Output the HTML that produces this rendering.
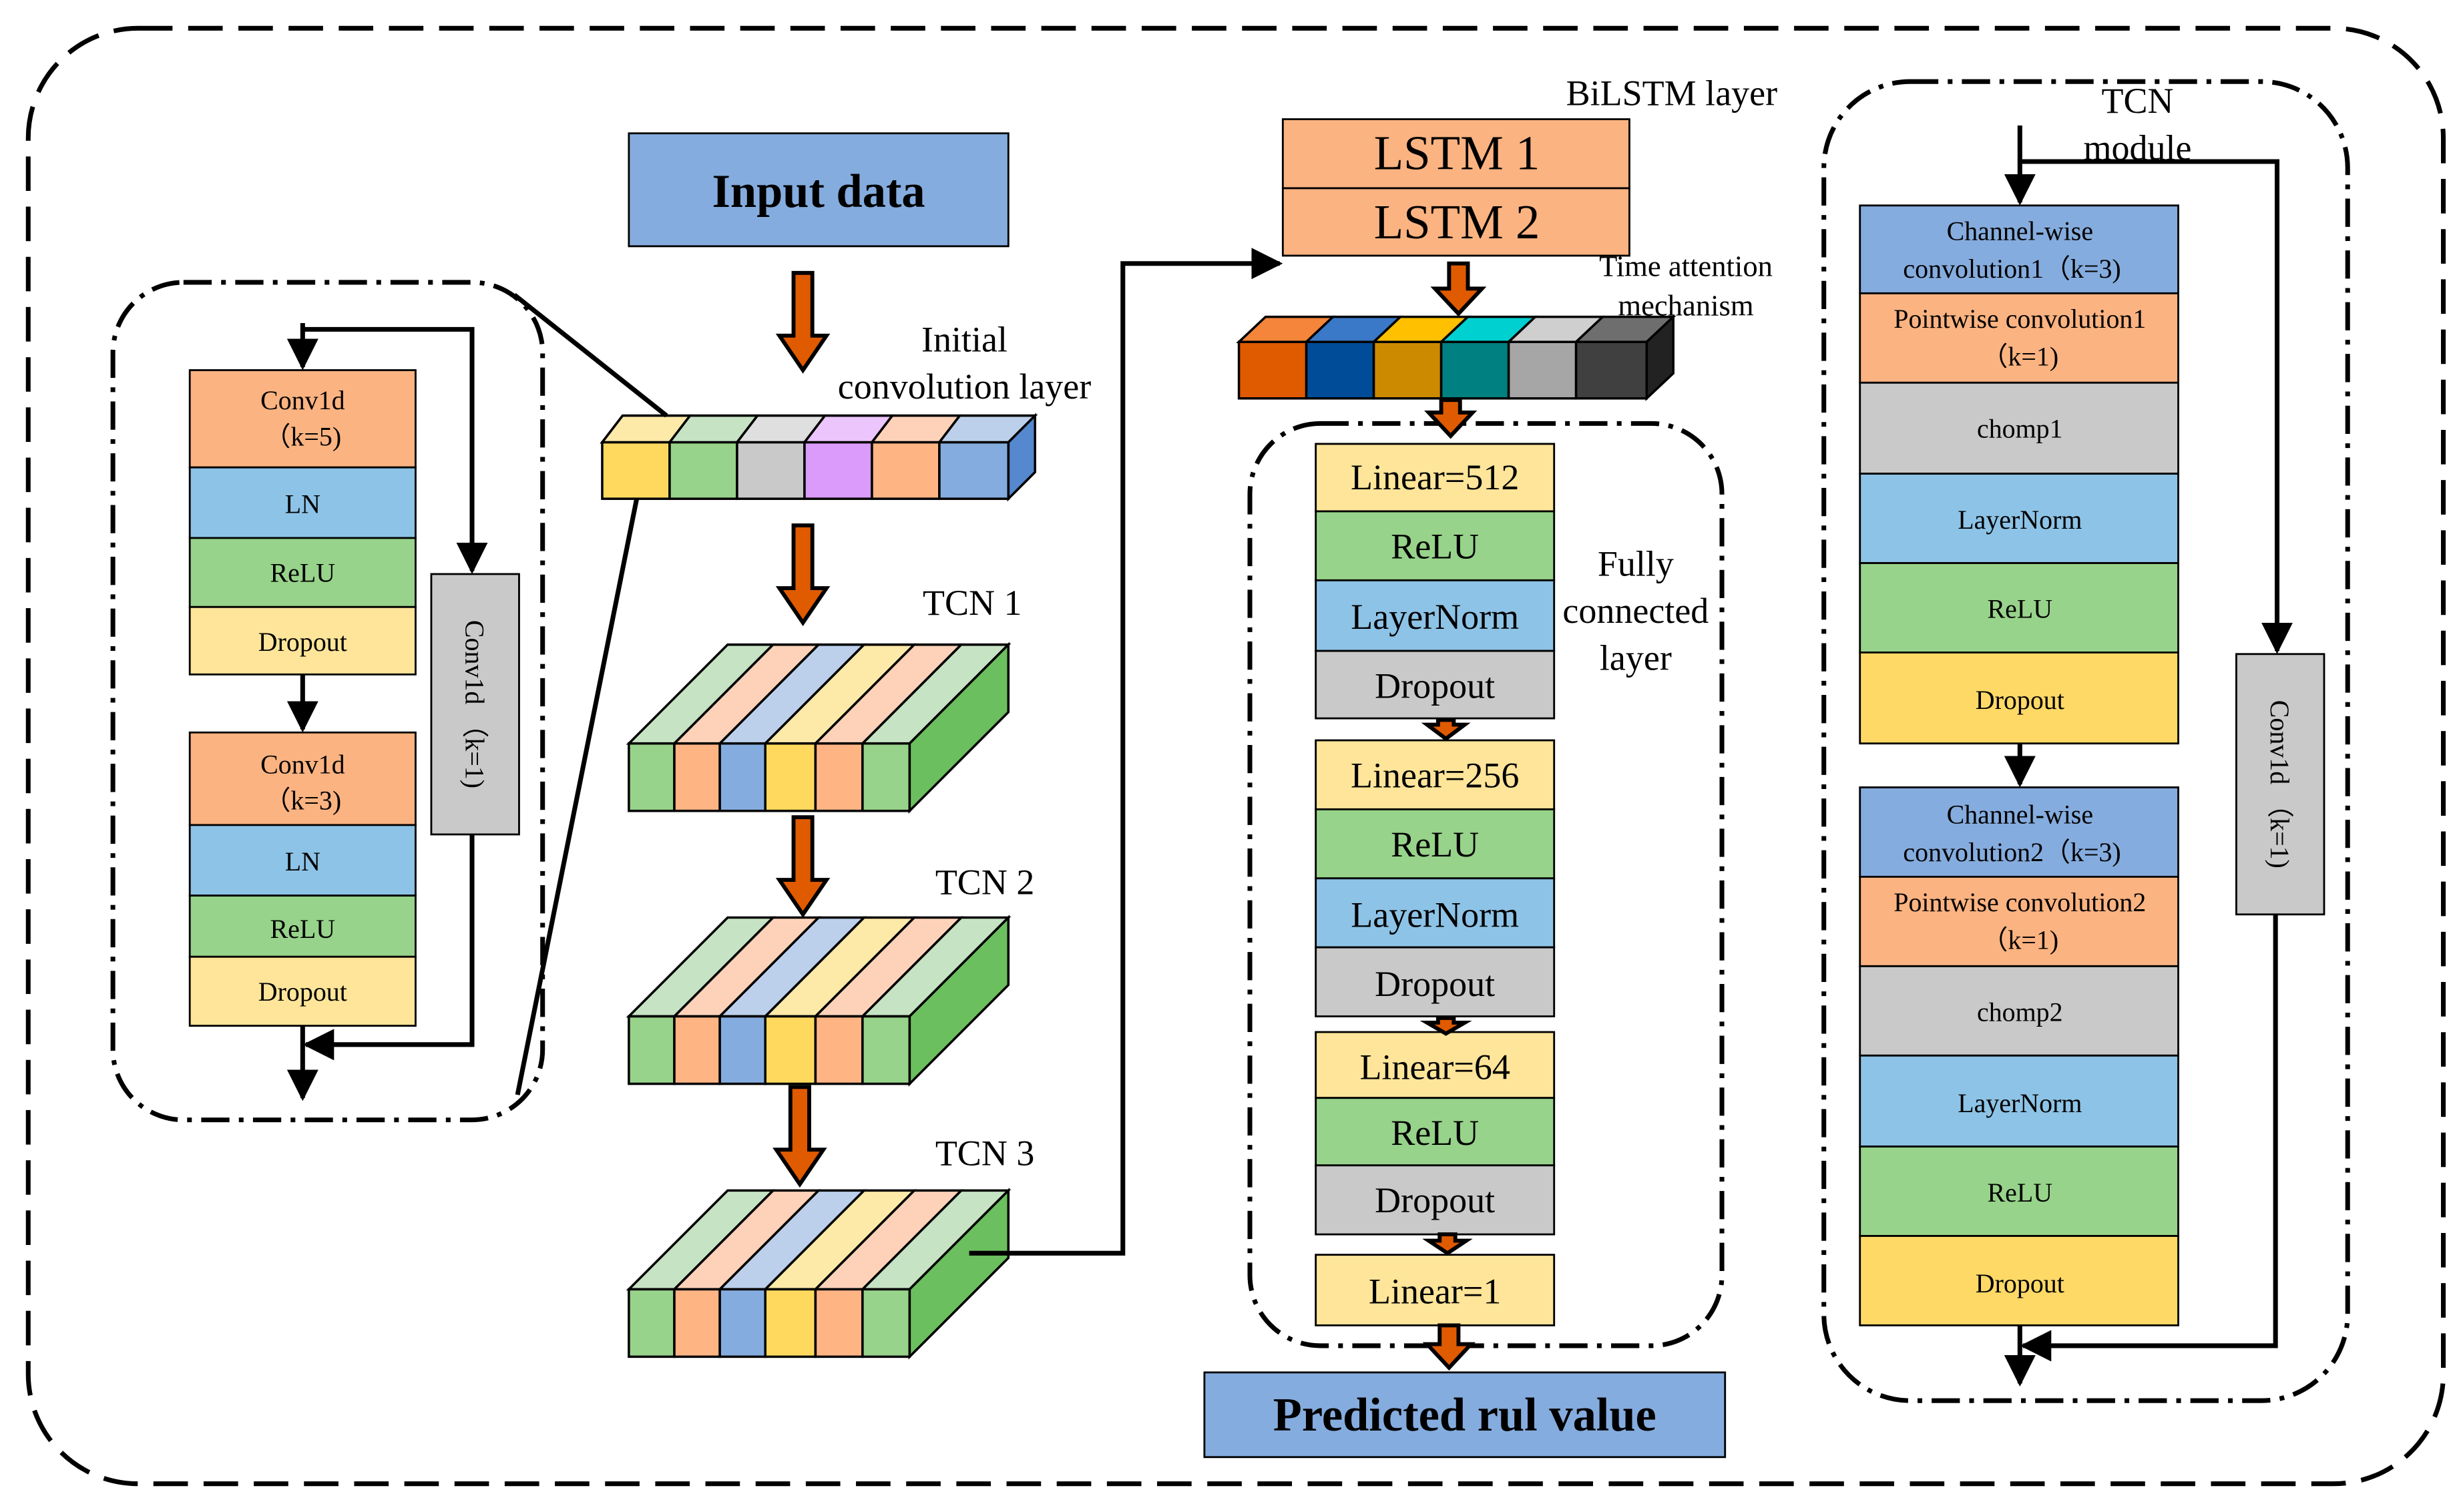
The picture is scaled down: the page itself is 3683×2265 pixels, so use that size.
<!DOCTYPE html>
<html><head><meta charset="utf-8"><style>
html,body{margin:0;padding:0;background:#fff}
svg{display:block}
text{font-family:"Liberation Serif",serif;fill:#000}
</style></head><body>
<svg width="3683" height="2265" viewBox="0 0 1568 964" preserveAspectRatio="none" xmlns="http://www.w3.org/2000/svg">
<defs>
<marker id="ah" markerWidth="10" markerHeight="10" refX="9" refY="5" orient="auto" markerUnits="userSpaceOnUse"><path d="M0,0 L10,5 L0,10 Z" fill="#000"/></marker>
<marker id="ahb" markerWidth="20" markerHeight="20" refX="18" refY="10" orient="auto" markerUnits="userSpaceOnUse"><path d="M0,0 L20,10 L0,20 Z" fill="#000"/></marker>
</defs>
<g fill="none" stroke="#000" stroke-width="3">
<rect x="18" y="18" width="1540" height="928" rx="70" stroke-dasharray="22,10"/>
<rect x="72" y="180" width="274" height="534" rx="45" stroke-dasharray="18,6,3,6"/>
<rect x="797" y="270" width="301" height="588" rx="45" stroke-dasharray="18,6,3,6"/>
<rect x="1163" y="52" width="334" height="841" rx="55" stroke-dasharray="18,6,3,6"/>
</g>
<g stroke="#000" stroke-width="1.2">
<!-- left module -->
<rect x="121" y="236" width="144" height="62" fill="#FBB381"/>
<rect x="121" y="298" width="144" height="45" fill="#8DC3E6"/>
<rect x="121" y="343" width="144" height="44" fill="#97D38A"/>
<rect x="121" y="387" width="144" height="43" fill="#FEE599"/>
<rect x="121" y="467" width="144" height="59" fill="#FBB381"/>
<rect x="121" y="526" width="144" height="45" fill="#8DC3E6"/>
<rect x="121" y="571" width="144" height="39" fill="#97D38A"/>
<rect x="121" y="610" width="144" height="44" fill="#FEE599"/>
<rect x="275" y="366" width="56" height="166" fill="#C9C9C9"/>
<!-- input -->
<rect x="401" y="85" width="242" height="72" fill="#85ACDE"/>
<!-- LSTM -->
<rect x="818" y="76" width="221" height="44" fill="#FBB381"/>
<rect x="818" y="120" width="221" height="43" fill="#FBB381"/>
<!-- FC -->
<rect x="839" y="283" width="152" height="43" fill="#FEE599"/>
<rect x="839" y="326" width="152" height="44" fill="#97D38A"/>
<rect x="839" y="370" width="152" height="45" fill="#8DC3E6"/>
<rect x="839" y="415" width="152" height="43" fill="#C9C9C9"/>
<rect x="839" y="472" width="152" height="44" fill="#FEE599"/>
<rect x="839" y="516" width="152" height="44" fill="#97D38A"/>
<rect x="839" y="560" width="152" height="44" fill="#8DC3E6"/>
<rect x="839" y="604" width="152" height="44" fill="#C9C9C9"/>
<rect x="839" y="658" width="152" height="42" fill="#FEE599"/>
<rect x="839" y="700" width="152" height="43" fill="#97D38A"/>
<rect x="839" y="743" width="152" height="44" fill="#C9C9C9"/>
<rect x="839" y="800" width="152" height="45" fill="#FEE599"/>
<rect x="768" y="875" width="332" height="54" fill="#85ACDE"/>
<!-- TCN module -->
<rect x="1186" y="131" width="203" height="56" fill="#85ACDE"/>
<rect x="1186" y="187" width="203" height="57" fill="#FBB381"/>
<rect x="1186" y="244" width="203" height="58" fill="#C9C9C9"/>
<rect x="1186" y="302" width="203" height="57" fill="#8DC3E6"/>
<rect x="1186" y="359" width="203" height="57" fill="#97D38A"/>
<rect x="1186" y="416" width="203" height="58" fill="#FFD966"/>
<rect x="1186" y="502" width="203" height="57" fill="#85ACDE"/>
<rect x="1186" y="559" width="203" height="57" fill="#FBB381"/>
<rect x="1186" y="616" width="203" height="57" fill="#C9C9C9"/>
<rect x="1186" y="673" width="203" height="58" fill="#8DC3E6"/>
<rect x="1186" y="731" width="203" height="57" fill="#97D38A"/>
<rect x="1186" y="788" width="203" height="57" fill="#FFD966"/>
<rect x="1426" y="417" width="56" height="166" fill="#C9C9C9"/>
</g>
<!-- initial conv bar -->
<g stroke="#000" stroke-width="1.5">
<polygon points="384,282 397,265 660,265 647,282" fill="#ccc"/>
<polygon points="384,282 397,265 440,265 427,282" fill="#FDE9A8"/>
<polygon points="427,282 440,265 483,265 470,282" fill="#C6E3C3"/>
<polygon points="470,282 483,265 526,265 513,282" fill="#DFDFDF"/>
<polygon points="513,282 526,265 569,265 556,282" fill="#EBC5FB"/>
<polygon points="556,282 569,265 612,265 599,282" fill="#FDD2B9"/>
<polygon points="599,282 612,265 660,265 643,282" fill="#BCD0EB"/>
<polygon points="643,282 660,265 660,301 643,318" fill="#5588CF"/>
<rect x="384" y="282" width="43" height="36" fill="#FFD95E"/>
<rect x="427" y="282" width="43" height="36" fill="#97D38A"/>
<rect x="470" y="282" width="43" height="36" fill="#C9C9C9"/>
<rect x="513" y="282" width="43" height="36" fill="#DA9BFB"/>
<rect x="556" y="282" width="43" height="36" fill="#FFB484"/>
<rect x="599" y="282" width="44" height="36" fill="#85ACDE"/>
</g>
<!-- TCN blocks -->
<g id="tcn" stroke="#000" stroke-width="1.5">
<polygon points="401,474 464,411 493,411 430,474" fill="#C6E3C3"/>
<polygon points="430,474 493,411 522,411 459,474" fill="#FDD2B9"/>
<polygon points="459,474 522,411 551,411 488,474" fill="#BCD0EB"/>
<polygon points="488,474 551,411 583,411 520,474" fill="#FDE9A8"/>
<polygon points="520,474 583,411 613,411 550,474" fill="#FDD2B9"/>
<polygon points="550,474 613,411 643,411 580,474" fill="#C6E3C3"/>
<polygon points="580,474 643,411 643,454 580,517" fill="#6CBF5E"/>
<rect x="401" y="474" width="29" height="43" fill="#97D38A"/>
<rect x="430" y="474" width="29" height="43" fill="#FFB484"/>
<rect x="459" y="474" width="29" height="43" fill="#85ACDE"/>
<rect x="488" y="474" width="32" height="43" fill="#FFD95E"/>
<rect x="520" y="474" width="30" height="43" fill="#FFB484"/>
<rect x="550" y="474" width="30" height="43" fill="#97D38A"/>
</g>
<use href="#tcn" transform="translate(0,174)"/>
<use href="#tcn" transform="translate(0,348)"/>
<!-- attention cubes -->
<g stroke="#000" stroke-width="1.5">
<polygon points="790,218 807,202 850,202 833,218" fill="#F4853A"/>
<polygon points="833,218 850,202 893,202 876,218" fill="#3A78C8"/>
<polygon points="876,218 893,202 936,202 919,218" fill="#FFC000"/>
<polygon points="919,218 936,202 979,202 962,218" fill="#00D0D0"/>
<polygon points="962,218 979,202 1022,202 1005,218" fill="#CFCFCF"/>
<polygon points="1005,218 1022,202 1067,202 1050,218" fill="#6E6E6E"/>
<polygon points="1050,218 1067,202 1067,238 1050,254" fill="#222"/>
<rect x="790" y="218" width="43" height="36" fill="#E05A00"/>
<rect x="833" y="218" width="43" height="36" fill="#004C99"/>
<rect x="876" y="218" width="43" height="36" fill="#CC8A00"/>
<rect x="919" y="218" width="43" height="36" fill="#008080"/>
<rect x="962" y="218" width="43" height="36" fill="#A6A6A6"/>
<rect x="1005" y="218" width="45" height="36" fill="#404040"/>
</g>
<!-- orange arrows -->
<g fill="#E05A00" stroke="#000" stroke-width="2.5">
<path d="M506,174 h12 v40 h9 l-15,22 l-15,-22 h9 z"/>
<path d="M506,335 h12 v40 h9 l-15,22 l-15,-22 h9 z"/>
<path d="M506,521 h12 v40 h9 l-15,22 l-15,-22 h9 z"/>
<path d="M504,693 h12 v40 h9 l-15,22 l-15,-22 h9 z"/>
<path d="M924,168 h12 v16 h9 l-15,16 l-15,-16 h9 z"/>
<path d="M919,255 h12 v8 h8 l-14,15 l-14,-15 h8 z"/>
<path d="M917,459 h10 v3 h7 l-12,9 l-12,-9 h7 z"/>
<path d="M917,649 h10 v3 h7 l-12,7 l-12,-7 h7 z"/>
<path d="M918,787 h10 v4 h7 l-12,8 l-12,-8 h7 z"/>
<path d="M918,845 h12 v12 h8 l-14,15 l-14,-15 h8 z"/>
</g>
<!-- connectors -->
<g fill="none" stroke="#000" stroke-width="3">
<path d="M193,206 V234" marker-end="url(#ahb)"/>
<path d="M193,210 H301 V364" marker-end="url(#ahb)"/>
<path d="M193,430 V465" marker-end="url(#ahb)"/>
<path d="M301,532 V666 H195" marker-end="url(#ahb)"/>
<path d="M193,654 V700" marker-end="url(#ahb)"/>
<path d="M328,188 L425,265"/>
<path d="M406,318 L330,698"/>
<path d="M618,799 H716 V168 H816" marker-end="url(#ahb)"/>
<path d="M1288,80 V129" marker-end="url(#ahb)"/>
<path d="M1288,103 H1452 V415" marker-end="url(#ahb)"/>
<path d="M1288,474 V500" marker-end="url(#ahb)"/>
<path d="M1451,583 V858 H1290" marker-end="url(#ahb)"/>
<path d="M1288,845 V882" marker-end="url(#ahb)"/>
</g>
<!-- text -->
<g text-anchor="middle" font-size="17">
<text x="193" y="261">Conv1d</text><text x="193" y="284">（k=5)</text>
<text x="193" y="327">LN</text><text x="193" y="371">ReLU</text><text x="193" y="415">Dropout</text>
<text x="193" y="493">Conv1d</text><text x="193" y="516">（k=3)</text>
<text x="193" y="555">LN</text><text x="193" y="598">ReLU</text><text x="193" y="638">Dropout</text>
<text transform="translate(297,449) rotate(90)">Conv1d （k=1)</text>
<text transform="translate(1448,500) rotate(90)">Conv1d （k=1)</text>
<text x="1288" y="153">Channel-wise</text><text x="1283" y="177">convolution1（k=3)</text>
<text x="1288" y="209">Pointwise convolution1</text><text x="1288" y="233">（k=1)</text>
<text x="1288" y="279">chomp1</text><text x="1288" y="337">LayerNorm</text>
<text x="1288" y="394">ReLU</text><text x="1288" y="452">Dropout</text>
<text x="1288" y="525">Channel-wise</text><text x="1283" y="549">convolution2（k=3)</text>
<text x="1288" y="581">Pointwise convolution2</text><text x="1288" y="605">（k=1)</text>
<text x="1288" y="651">chomp2</text><text x="1288" y="709">LayerNorm</text>
<text x="1288" y="766">ReLU</text><text x="1288" y="824">Dropout</text>
</g>
<g text-anchor="middle" font-size="23">
<text x="915" y="312">Linear=512</text><text x="915" y="356">ReLU</text>
<text x="915" y="401">LayerNorm</text><text x="915" y="445">Dropout</text>
<text x="915" y="502">Linear=256</text><text x="915" y="546">ReLU</text>
<text x="915" y="591">LayerNorm</text><text x="915" y="635">Dropout</text>
<text x="915" y="688">Linear=64</text><text x="915" y="730">ReLU</text>
<text x="915" y="773">Dropout</text><text x="915" y="831">Linear=1</text>
<text x="615" y="224">Initial</text><text x="615" y="254">convolution layer</text>
<text x="620" y="392">TCN 1</text><text x="628" y="570">TCN 2</text><text x="628" y="743">TCN 3</text>
<text x="1043" y="367">Fully</text><text x="1043" y="397">connected</text><text x="1043" y="427">layer</text>
<text x="1066" y="67">BiLSTM  layer</text>
<text x="1363" y="72">TCN</text><text x="1363" y="102">module</text>
</g>
<g text-anchor="middle" font-size="19">
<text x="1075" y="176">Time attention</text><text x="1075" y="201">mechanism</text>
</g>
<g text-anchor="middle" font-size="31">
<text x="929" y="108">LSTM 1</text><text x="929" y="152">LSTM 2</text>
</g>
<g text-anchor="middle" font-size="30" font-weight="bold">
<text x="522" y="132">Input data</text>
<text x="934" y="912">Predicted rul value</text>
</g>
</svg>
</body></html>
